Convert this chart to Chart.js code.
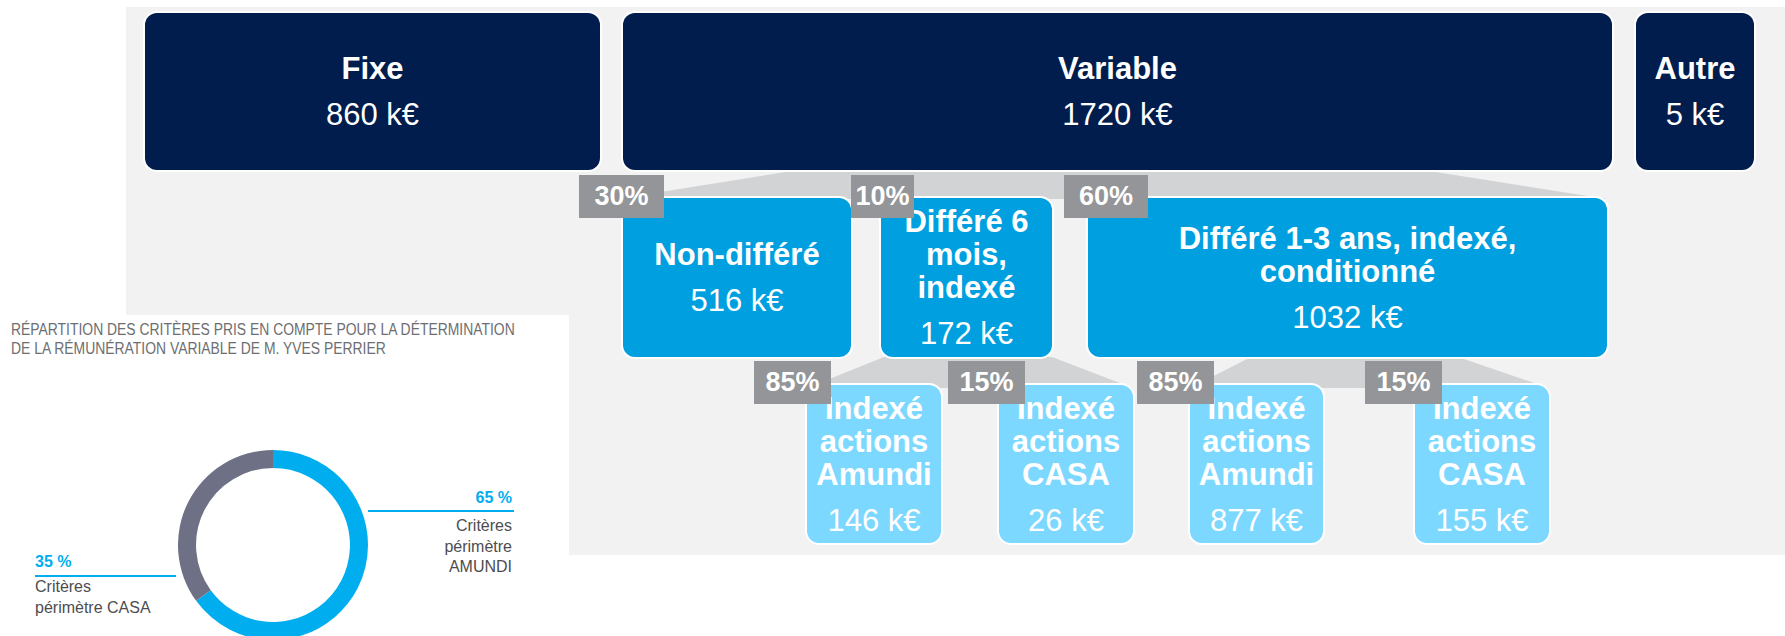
<!DOCTYPE html>
<html>
<head>
<meta charset="utf-8">
<script src="https://cdn.jsdelivr.net/npm/chart.js@4.4.1/dist/chart.umd.min.js"></script>
<style>
  html, body { margin:0; padding:0; width:1785px; height:636px; overflow:hidden; background:#fff; font-family:"Liberation Sans", Arial, sans-serif; }
  #stage { position:relative; width:1785px; height:636px; overflow:hidden; }
  .abs { position:absolute; }
  .box { position:absolute; box-sizing:border-box; border-radius:12px; box-shadow:0 0 0 2px #fff; display:flex; flex-direction:column; justify-content:center; align-items:center; text-align:center; color:#fff; }
  .box .t { font-weight:bold; font-size:31px; line-height:33px; white-space:nowrap; }
  .box .v { font-size:31px; line-height:33px; margin-top:13px; white-space:nowrap; }
  .pct { position:absolute; background:#939598; color:#fff; font-weight:bold; font-size:27px; display:flex; align-items:center; justify-content:center; height:43px; }
  .trap { position:absolute; background:#D1D3D4; }
  .lbl { position:absolute; font-size:16px; line-height:20.5px; color:#4d4d4f; white-space:nowrap; }
  .pcttxt { color:#00AEEF; font-weight:bold; }
</style>
</head>
<body>
<div id="stage">
  <div class="abs" style="left:126px;top:7px;width:1659px;height:548px;background:#F2F2F2;"></div>
  <div class="abs" style="left:0;top:315px;width:569px;height:321px;background:#fff;"></div>
  <div id="diagram"></div>
  <div id="title" class="abs" style="left:11px;top:320px;font-size:16px;line-height:19px;color:#6d6e71;white-space:nowrap;transform-origin:0 0;"></div>
  <div class="abs" style="left:178px;top:450px;width:190px;height:190px;">
    <canvas id="donut" width="190" height="190"></canvas>
  </div>
  <div id="donutLabels"></div>
</div>
<script>
// ---------------- DATA ----------------
const level1Labels = ['Fixe', 'Variable', 'Autre'];
const level1Values = [860, 1720, 5];

const level2Labels = ['Non-différé', 'Différé 6\nmois,\nindexé', 'Différé 1-3 ans, indexé,\nconditionné'];
const level2Shares = [30, 10, 60];
const level2Values = [516, 172, 1032];

const level3Labels = ['Indexé\nactions\nAmundi', 'Indexé\nactions\nCASA', 'Indexé\nactions\nAmundi', 'Indexé\nactions\nCASA'];
const level3Shares = [85, 15, 85, 15];
const level3Values = [146, 26, 877, 155];

const donutTitle = ['RÉPARTITION DES CRITÈRES PRIS EN COMPTE POUR LA DÉTERMINATION', 'DE LA RÉMUNÉRATION VARIABLE DE M. YVES PERRIER'];
const donutLabels = ['Critères\npérimètre\nAMUNDI', 'Critères\npérimètre CASA'];
const donutValues = [65, 35];
const unit = ' k€';

// ---------------- LAYOUT (positions / styles) ----------------
const L1 = [[145, 13, 455, 157], [623, 13, 989, 157], [1636, 13, 118, 157]];
const L2 = [[623, 198, 228, 159], [881, 198, 171, 159], [1088, 198, 519, 159]];
const L3 = [[807, 385, 134, 158], [999, 385, 134, 158], [1190, 385, 133, 158], [1415, 385, 134, 158]];
const P2 = [[579, 175, 85], [851, 175, 63], [1064, 175, 84]];
const P3 = [[754, 361, 77], [948, 361, 77], [1137, 361, 77], [1365, 361, 77]];
// trapezoids: [topY, topL, topR, botY, botL, botR]
const TR = [[170, 798, 1423, 199, 617, 1607], [357, 884, 1052, 388, 807, 1133], [357, 1251, 1458, 388, 1190, 1549]];
const COL1 = '#001D4D', COL2 = '#009FDF', COL3 = '#7DD8FF';

const diag = document.getElementById('diagram');
function trap(t) {
  const [ty, tl, tr, by, bl, br] = t;
  const x0 = Math.min(tl, bl), x1 = Math.max(tr, br);
  const d = document.createElement('div');
  d.className = 'trap';
  Object.assign(d.style, { left: x0 + 'px', top: ty + 'px', width: (x1 - x0) + 'px', height: (by - ty) + 'px' });
  const w = x1 - x0, h = by - ty;
  d.style.clipPath = `polygon(${tl - x0}px 0, ${tr - x0}px 0, ${br - x0}px ${h}px, ${bl - x0}px ${h}px)`;
  diag.appendChild(d);
}
function box(geom, label, value, color) {
  const d = document.createElement('div');
  d.className = 'box';
  Object.assign(d.style, { left: geom[0] + 'px', top: geom[1] + 'px', width: geom[2] + 'px', height: geom[3] + 'px', background: color });
  label.split('\n').forEach(s => { const e = document.createElement('div'); e.className = 't'; e.textContent = s; d.appendChild(e); });
  const v = document.createElement('div'); v.className = 'v'; v.textContent = value + unit; d.appendChild(v);
  diag.appendChild(d);
}
function pct(geom, share) {
  const d = document.createElement('div');
  d.className = 'pct';
  Object.assign(d.style, { left: geom[0] + 'px', top: geom[1] + 'px', width: geom[2] + 'px' });
  d.textContent = share + '%';
  diag.appendChild(d);
}
TR.forEach(trap);
level1Labels.forEach((l, i) => box(L1[i], l, level1Values[i], COL1));
level2Labels.forEach((l, i) => box(L2[i], l, level2Values[i], COL2));
level3Labels.forEach((l, i) => box(L3[i], l, level3Values[i], COL3));
level2Shares.forEach((s, i) => pct(P2[i], s));
level3Shares.forEach((s, i) => pct(P3[i], s));

// title
const title = document.getElementById('title');
donutTitle.forEach(s => { const e = document.createElement('div'); e.textContent = s; title.appendChild(e); });
requestAnimationFrame(() => {});
const tw = title.scrollWidth;
title.style.transform = 'scaleX(' + (504 / tw) + ')';

// donut labels
const DL = document.getElementById('donutLabels');
function addLbl(html, style) {
  const d = document.createElement('div'); d.className = 'lbl'; d.innerHTML = html; d.setAttribute('style', style); DL.appendChild(d);
}
// right (AMUNDI)
addLbl('<span class="pcttxt">' + donutValues[0] + ' %</span>', 'right:' + (1785 - 512) + 'px;top:488px;text-align:right;');
DL.insertAdjacentHTML('beforeend', '<div class="abs" style="left:368px;top:510px;width:146px;height:2px;background:#00AEEF;"></div>');
addLbl(donutLabels[0].split('\n').join('<br>'), 'right:' + (1785 - 512) + 'px;top:516px;text-align:right;');
// left (CASA)
addLbl('<span class="pcttxt">' + donutValues[1] + ' %</span>', 'left:35px;top:552px;');
DL.insertAdjacentHTML('beforeend', '<div class="abs" style="left:35px;top:575px;width:141px;height:2px;background:#00AEEF;"></div>');
addLbl(donutLabels[1].split('\n').join('<br>'), 'left:35px;top:576px;line-height:21px;');

// Chart.js doughnut
new Chart(document.getElementById('donut'), {
  type: 'doughnut',
  data: {
    labels: donutLabels.map(s => s.replace(/\n/g, ' ')),
    datasets: [{ data: donutValues, backgroundColor: ['#00AEEF', '#6E7186'], borderWidth: 0 }]
  },
  options: {
    responsive: false,
    animation: false,
    cutout: '81%',
    layout: { padding: 0 },
    plugins: { legend: { display: false }, tooltip: { enabled: false } }
  }
});
</script>
</body>
</html>
